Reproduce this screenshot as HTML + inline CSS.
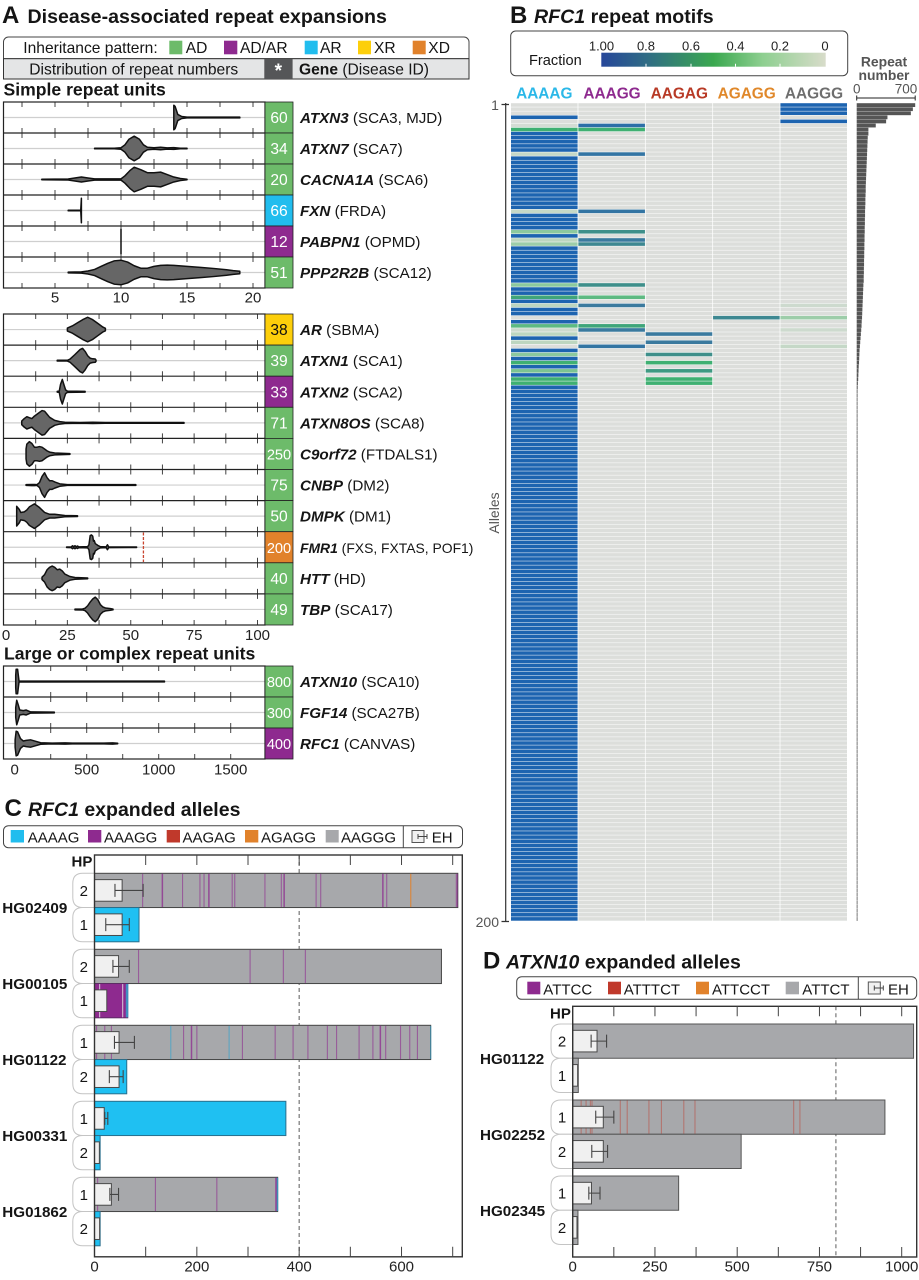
<!DOCTYPE html>
<html lang="en">
<head>
<meta charset="utf-8">
<title>Disease-associated repeat expansions</title>
<style>
html,body{margin:0;padding:0;background:#fff;}
svg{display:block;}
text{font-family:"Liberation Sans",Arial,sans-serif;fill:#151515;}
.t15{font-size:15.2px;}
.g{font-weight:bold;font-style:italic;}
.b{font-weight:bold;}
.title{font-size:19.6px;font-weight:bold;}
.letter{font-size:24px;font-weight:bold;}
.sub{font-size:17.6px;font-weight:bold;}
.val{font-size:15.6px;fill:#fff;text-anchor:middle;}
.val3{font-size:14.6px;}
.tick{font-size:15px;text-anchor:middle;fill:#222;}
.cb{font-size:13px;text-anchor:middle;fill:#222;}
.motif{font-size:15.4px;font-weight:bold;text-anchor:middle;}
.gr{fill:#555;}
</style>
</head>
<body>
<svg id="figure" xmlns="http://www.w3.org/2000/svg" width="919" height="1280" viewBox="0 0 919 1280">
<defs>
<linearGradient id="fractionGradient" x1="0" x2="1" y1="0" y2="0">
<stop offset="0" stop-color="#27479a"/>
<stop offset="0.2" stop-color="#2f6b85"/>
<stop offset="0.5" stop-color="#3aa84f"/>
<stop offset="0.72" stop-color="#8ecf90"/>
<stop offset="1" stop-color="#d8dcca"/>
</linearGradient>
</defs>

<!-- PANEL A HEADER -->
<g>
<text class="letter" x="2" y="23">A</text>
<text class="title" x="27.5" y="23">Disease-associated repeat expansions</text>
<path d="M3.5 58.7V42a5 5 0 0 1 5-5H464a5 5 0 0 1 5 5V58.7Z" fill="#fff" stroke="#444" stroke-width="1"/>
<rect x="3.5" y="58.7" width="465.5" height="20.3" fill="#e4e5e6" stroke="#333" stroke-width="1"/>
<text class="t15" style="font-size:15.6px" x="23.3" y="53">Inheritance pattern:</text>
<rect x="169.3" y="40.7" width="13" height="13.6" fill="#6dbb6a"/>
<text class="t15" style="font-size:15.6px" x="185.7" y="53">AD</text>
<rect x="224" y="40.7" width="13.3" height="13.6" fill="#8e2a8f"/>
<text class="t15" style="font-size:15.6px" x="240" y="53">AD/AR</text>
<rect x="304.7" y="40.7" width="13" height="13.6" fill="#21bdee"/>
<text class="t15" style="font-size:15.6px" x="320" y="53">AR</text>
<rect x="358" y="40.7" width="13" height="13.6" fill="#fdcf0b"/>
<text class="t15" style="font-size:15.6px" x="374" y="53">XR</text>
<rect x="412.7" y="40.7" width="13" height="13.6" fill="#e1822b"/>
<text class="t15" style="font-size:15.6px" x="428.3" y="53">XD</text>
<text class="t15" style="font-size:15.6px" x="29.3" y="74.3">Distribution of repeat numbers</text>
<rect x="264.3" y="59" width="28.3" height="20" fill="#555658"/>
<text x="278.3" y="77" text-anchor="middle" style="font-size:19px;fill:#fff;font-weight:bold">*</text>
<text class="t15" style="font-size:15.6px" x="299" y="74.3"><tspan class="b">Gene</tspan> (Disease ID)</text>
<text class="sub" x="3.5" y="95.3">Simple repeat units</text>
<text class="sub" x="4" y="659.3">Large or complex repeat units</text>
</g>

<g id="violinLayer"></g>

<!-- THRESHOLD BOXES -->
<g stroke="#222" stroke-width="0.8">
<rect x="265" y="102" width="28" height="31" fill="#6dbb6a"/>
<rect x="265" y="133" width="28" height="31" fill="#6dbb6a"/>
<rect x="265" y="164" width="28" height="31" fill="#6dbb6a"/>
<rect x="265" y="195" width="28" height="31" fill="#21bdee"/>
<rect x="265" y="226" width="28" height="31" fill="#8e2a8f"/>
<rect x="265" y="257" width="28" height="31" fill="#6dbb6a"/>
<rect x="265" y="314" width="28" height="31.1" fill="#fdcf0b"/>
<rect x="265" y="345.1" width="28" height="31.1" fill="#6dbb6a"/>
<rect x="265" y="376.2" width="28" height="31.1" fill="#8e2a8f"/>
<rect x="265" y="407.3" width="28" height="31.1" fill="#6dbb6a"/>
<rect x="265" y="438.4" width="28" height="31.1" fill="#6dbb6a"/>
<rect x="265" y="469.5" width="28" height="31.1" fill="#6dbb6a"/>
<rect x="265" y="500.6" width="28" height="31.1" fill="#6dbb6a"/>
<rect x="265" y="531.7" width="28" height="31.1" fill="#e1822b"/>
<rect x="265" y="562.8" width="28" height="31.1" fill="#6dbb6a"/>
<rect x="265" y="593.9" width="28" height="31.1" fill="#6dbb6a"/>
<rect x="265" y="666" width="28" height="31" fill="#6dbb6a"/>
<rect x="265" y="697" width="28" height="31" fill="#6dbb6a"/>
<rect x="265" y="728" width="28" height="31" fill="#8e2a8f"/>
</g>
<g>
<text class="val" x="279" y="123">60</text>
<text class="val" x="279" y="154">34</text>
<text class="val" x="279" y="185">20</text>
<text class="val" x="279" y="216">66</text>
<text class="val" x="279" y="247">12</text>
<text class="val" x="279" y="278">51</text>
<text class="val" x="279" y="335" style="fill:#111">38</text>
<text class="val" x="279" y="366.2">39</text>
<text class="val" x="279" y="397.3">33</text>
<text class="val" x="279" y="428.4">71</text>
<text class="val val3" x="279" y="459.5">250</text>
<text class="val" x="279" y="490.6">75</text>
<text class="val" x="279" y="521.7">50</text>
<text class="val val3" x="279" y="552.8">200</text>
<text class="val" x="279" y="583.9">40</text>
<text class="val" x="279" y="615">49</text>
<text class="val val3" x="279" y="687">800</text>
<text class="val val3" x="279" y="718">300</text>
<text class="val val3" x="279" y="749">400</text>
</g>

<!-- GENE LABELS -->
<g>
<text class="t15" x="300" y="123"><tspan class="g">ATXN3</tspan> (SCA3, MJD)</text>
<text class="t15" x="300" y="154"><tspan class="g">ATXN7</tspan> (SCA7)</text>
<text class="t15" x="300" y="185"><tspan class="g">CACNA1A</tspan> (SCA6)</text>
<text class="t15" x="300" y="216"><tspan class="g">FXN</tspan> (FRDA)</text>
<text class="t15" x="300" y="247"><tspan class="g">PABPN1</tspan> (OPMD)</text>
<text class="t15" x="300" y="278"><tspan class="g">PPP2R2B</tspan> (SCA12)</text>
<text class="t15" x="300" y="335"><tspan class="g">AR</tspan> (SBMA)</text>
<text class="t15" x="300" y="366.2"><tspan class="g">ATXN1</tspan> (SCA1)</text>
<text class="t15" x="300" y="397.3"><tspan class="g">ATXN2</tspan> (SCA2)</text>
<text class="t15" x="300" y="428.4"><tspan class="g">ATXN8OS</tspan> (SCA8)</text>
<text class="t15" x="300" y="459.5"><tspan class="g">C9orf72</tspan> (FTDALS1)</text>
<text class="t15" x="300" y="490.6"><tspan class="g">CNBP</tspan> (DM2)</text>
<text class="t15" x="300" y="521.7"><tspan class="g">DMPK</tspan> (DM1)</text>
<text class="t15" x="300" y="552.8" style="font-size:13.9px"><tspan class="g">FMR1</tspan> (FXS, FXTAS, POF1)</text>
<text class="t15" x="300" y="583.9"><tspan class="g">HTT</tspan> (HD)</text>
<text class="t15" x="300" y="615"><tspan class="g">TBP</tspan> (SCA17)</text>
<text class="t15" x="300" y="687"><tspan class="g">ATXN10</tspan> (SCA10)</text>
<text class="t15" x="300" y="718"><tspan class="g">FGF14</tspan> (SCA27B)</text>
<text class="t15" x="300" y="749"><tspan class="g">RFC1</tspan> (CANVAS)</text>
</g>

<!-- PANEL B -->
<g>
<text class="letter" x="510" y="23">B</text>
<text class="title" x="534" y="23"><tspan class="g">RFC1</tspan> repeat motifs</text>
<rect x="510.7" y="31" width="337" height="44.7" rx="5" fill="#fff" stroke="#444" stroke-width="1"/>
<text x="529" y="65" style="font-size:14.6px">Fraction</text>
<rect x="601.3" y="52.7" width="224.4" height="14" fill="url(#fractionGradient)"/>
<text class="cb" x="601.5" y="50.5">1.00</text>
<text class="cb" x="646" y="50.5">0.8</text>
<text class="cb" x="691" y="50.5">0.6</text>
<text class="cb" x="735.5" y="50.5">0.4</text>
<text class="cb" x="780" y="50.5">0.2</text>
<text class="cb" x="825" y="50.5">0</text>
<path d="M646 66.7v-3M691 66.7v-3M735.5 66.7v-3M780 66.7v-3" stroke="#fff" stroke-width="1"/>
<text class="motif" x="544.3" y="98.7" style="fill:#2bb8e8">AAAAG</text>
<text class="motif" x="612" y="98.7" style="fill:#8e2a8f">AAAGG</text>
<text class="motif" x="679.3" y="98.7" style="fill:#b83a26">AAGAG</text>
<text class="motif" x="746.7" y="98.7" style="fill:#e0882a">AGAGG</text>
<text class="motif" x="814" y="98.7" style="fill:#6e6e6e">AAGGG</text>
<text x="884" y="66.7" text-anchor="middle" class="b gr" style="font-size:13.9px">Repeat</text>
<text x="884" y="80" text-anchor="middle" class="b gr" style="font-size:13.9px">number</text>
<text x="856.7" y="93.3" text-anchor="middle" class="gr" style="font-size:13.5px">0</text>
<text x="906" y="93.3" text-anchor="middle" class="gr" style="font-size:13.5px">700</text>
<path d="M856.7 95.5v5M856.7 98H915.2M915.2 95.5v5" fill="none" stroke="#222" stroke-width="1"/>
<path d="M505.7 103V921M501.5 104.5H509M501.5 921.5H509" fill="none" stroke="#333" stroke-width="1.2"/>
<text x="495" y="110" text-anchor="middle" class="gr" style="font-size:14px">1</text>
<text x="499" y="927" text-anchor="end" class="gr" style="font-size:14px">200</text>
<text x="0" y="0" transform="translate(499,513) rotate(-90)" text-anchor="middle" class="gr" style="font-size:14px">Alleles</text>
</g>
<g id="heatLayer"></g>
<g id="repeatBarLayer"></g>

<!-- PANEL C -->
<g>
<text class="letter" x="4.5" y="816">C</text>
<text class="title" x="28" y="816" style="font-size:19.5px"><tspan class="g">RFC1</tspan> expanded alleles</text>
<rect x="3.5" y="825.7" width="459" height="22" rx="5" fill="#fff" stroke="#444" stroke-width="1"/>
<rect x="10.7" y="830" width="13.3" height="12.5" fill="#21bdee"/>
<text x="27.7" y="842.7" style="font-size:15px">AAAAG</text>
<rect x="88" y="830" width="13.3" height="12.5" fill="#8e2a8f"/>
<text x="104" y="842.7" style="font-size:15px">AAAGG</text>
<rect x="166.7" y="830" width="13.3" height="12.5" fill="#c0392b"/>
<text x="182.5" y="842.7" style="font-size:15px">AAGAG</text>
<rect x="245" y="830" width="13.3" height="12.5" fill="#e1822b"/>
<text x="261" y="842.7" style="font-size:15px">AGAGG</text>
<rect x="325.7" y="830" width="13" height="12.5" fill="#a7a8ab"/>
<text x="341" y="842.7" style="font-size:15px">AAGGG</text>
<path d="M403.3 825.7v22" stroke="#444" stroke-width="1"/>
<g>
<rect x="412" y="830.5" width="12" height="12" fill="#f0f0f0" stroke="#555" stroke-width="1"/>
<path d="M418 836.5H427M418 834v5M427 834v5" fill="none" stroke="#444" stroke-width="1"/>
</g>
<text x="431.7" y="842.7" style="font-size:15px">EH</text>
<text x="71.5" y="866.7" class="b" style="font-size:15px">HP</text>
</g>
<g id="rfc1Layer"></g>

<!-- PANEL D -->
<g>
<text class="letter" x="483" y="968.3">D</text>
<text class="title" x="506" y="968.3" style="font-size:19.5px"><tspan class="g">ATXN10</tspan> expanded alleles</text>
<rect x="516.7" y="976.7" width="400" height="22.6" rx="5" fill="#fff" stroke="#444" stroke-width="1"/>
<rect x="527.3" y="981.7" width="13" height="12.6" fill="#8e2a8f"/>
<text x="543.3" y="994.5" style="font-size:15px">ATTCC</text>
<rect x="608" y="981.7" width="13" height="12.6" fill="#c0392b"/>
<text x="623.7" y="994.5" style="font-size:15px">ATTTCT</text>
<rect x="696" y="981.7" width="13" height="12.6" fill="#e1822b"/>
<text x="712" y="994.5" style="font-size:15px">ATTCCT</text>
<rect x="785.7" y="981.7" width="13.3" height="12.6" fill="#a7a8ab"/>
<text x="802.3" y="994.5" style="font-size:15px">ATTCT</text>
<path d="M858.3 976.7v22.6" stroke="#444" stroke-width="1"/>
<g>
<rect x="868.3" y="982" width="12" height="12" fill="#f0f0f0" stroke="#555" stroke-width="1"/>
<path d="M874.3 988H883.3M874.3 985.5v5M883.3 985.5v5" fill="none" stroke="#444" stroke-width="1"/>
</g>
<text x="888" y="994.5" style="font-size:15px">EH</text>
<text x="550" y="1018.3" class="b" style="font-size:15px">HP</text>
</g>
<g id="atxn10Layer"></g>
</svg>

<script>
// ---------- Panel A axes ----------
const simpleTicks = [2.5, 5, 7.5, 10, 12.5, 15, 17.5, 20];
const simpleTickLabels = [5, 10, 15, 20];
const midTicks = [12.5, 25, 37.5, 50, 62.5, 75, 87.5, 100];
const midTickLabels = [0, 25, 50, 75, 100];
const largeTicks = [250, 500, 750, 1000, 1250, 1500];
const largeTickLabels = [0, 500, 1000, 1500];

// ---------- Panel A violins: repeat counts and relative density ----------
const atxn3Repeats = [14, 14.1, 14.3, 14.6, 15, 19];
const atxn3Density = [1, 0.9, 0.25, 0.08, 0.03, 0.03];
const atxn7Repeats = [8, 9.5, 10, 10.3, 10.6, 11, 11.4, 11.7, 12, 12.5, 13, 13.5, 14, 14.5, 15];
const atxn7Density = [0.02, 0.02, 0.06, 0.3, 0.75, 1, 0.75, 0.3, 0.1, 0.06, 0.1, 0.05, 0.07, 0.02, 0.02];
const cacna1aRepeats = [4, 6, 6.5, 7, 7.5, 8, 10, 10.3, 10.7, 11, 11.5, 12, 12.5, 13, 13.5, 14, 14.5, 15];
const cacna1aDensity = [0.02, 0.04, 0.12, 0.2, 0.12, 0.05, 0.05, 0.3, 0.75, 1, 0.8, 0.55, 0.55, 0.6, 0.4, 0.2, 0.08, 0.02];
const fxnRepeats = [6, 6.95, 7];
const fxnDensity = [0.02, 0.02, 1];
const pabpn1Repeats = [10];
const pabpn1Density = [1];
const ppp2r2bRepeats = [6, 7, 7.5, 8, 8.5, 9, 9.5, 10, 10.5, 11, 11.5, 12, 12.5, 13, 13.5, 14, 15, 16, 17, 18, 18.5, 19];
const ppp2r2bDensity = [0.03, 0.05, 0.12, 0.25, 0.5, 0.75, 0.95, 1, 0.85, 0.55, 0.35, 0.35, 0.5, 0.58, 0.6, 0.58, 0.5, 0.42, 0.33, 0.22, 0.15, 0.1];
const arRepeats = [25, 27, 29, 31, 33, 35, 37, 39, 40];
const arDensity = [0.12, 0.3, 0.55, 0.8, 1, 0.8, 0.5, 0.2, 0.1];
const atxn1Repeats = [21, 25, 26, 28, 30, 31, 32, 33, 34, 35, 36, 36.3];
const atxn1Density = [0.03, 0.03, 0.12, 0.5, 0.9, 1, 0.75, 0.4, 0.2, 0.15, 0.13, 0.05];
const atxn2Repeats = [21, 21.8, 22.3, 23, 23.6, 24.3, 25, 32];
const atxn2Density = [0.03, 0.05, 0.6, 1, 0.6, 0.15, 0.05, 0.03];
const atxn8osRepeats = [7, 8, 9, 10, 11, 12, 14, 15, 16, 17, 18, 20, 22, 24, 30, 35, 40, 71];
const atxn8osDensity = [0.15, 0.35, 0.5, 0.42, 0.35, 0.55, 0.85, 1, 0.95, 0.7, 0.45, 0.2, 0.1, 0.05, 0.03, 0.05, 0.03, 0.03];
const c9orf72Repeats = [8.7, 9, 10, 11, 12, 13, 14, 15, 16, 17, 18, 20, 26];
const c9orf72Density = [0.4, 0.8, 1, 0.85, 0.55, 0.55, 0.6, 0.55, 0.4, 0.25, 0.15, 0.08, 0.03];
const cnbpRepeats = [8.7, 11, 12, 13, 14, 15, 16, 17, 18, 19, 20, 22, 25, 52];
const cnbpDensity = [0.03, 0.05, 0.05, 0.03, 0.2, 0.7, 1, 0.6, 0.35, 0.35, 0.25, 0.1, 0.03, 0.03];
const dmpkRepeats = [5, 6, 6.6, 8, 9, 10, 12, 14, 16, 18, 20, 22, 24, 29];
const dmpkDensity = [0.8, 0.55, 0.3, 0.35, 0.5, 0.75, 1, 0.7, 0.3, 0.15, 0.15, 0.1, 0.05, 0.03];
const fmr1Repeats = [24.7, 26.5, 27, 27.5, 28, 28.5, 29, 29.5, 33, 33.5, 34, 34.5, 35, 35.3, 35.6, 36, 37, 38, 40.3, 40.8, 41.3, 52.3];
const fmr1Density = [0.02, 0.03, 0.12, 0.04, 0.12, 0.04, 0.1, 0.03, 0.05, 0.2, 0.95, 1, 0.9, 0.5, 0.55, 0.3, 0.15, 0.05, 0.03, 0.2, 0.03, 0.02];
const httRepeats = [15, 16, 17, 18, 19, 20, 21, 22, 23, 24, 25, 26, 28, 33];
const httDensity = [0.1, 0.3, 0.7, 0.9, 1, 0.9, 0.7, 0.75, 0.6, 0.35, 0.25, 0.15, 0.07, 0.03];
const tbpRepeats = [28, 31, 32, 33, 34, 35, 36, 37, 38, 39, 40, 42, 43];
const tbpDensity = [0.03, 0.04, 0.1, 0.3, 0.6, 0.85, 1, 0.8, 0.4, 0.2, 0.12, 0.07, 0.03];
const atxn10Repeats = [7, 10, 20, 30, 1040];
const atxn10Density = [0.5, 1, 1, 0.04, 0.03];
const fgf14Repeats = [7, 14, 25, 35, 60, 80, 110, 275];
const fgf14Density = [0.4, 1, 0.6, 0.2, 0.15, 0.2, 0.05, 0.03];
const rfc1Repeats = [3, 10, 20, 40, 60, 80, 110, 140, 180, 260, 350, 400, 620, 680, 715];
const rfc1Density = [0.3, 1, 0.95, 0.4, 0.2, 0.25, 0.3, 0.2, 0.06, 0.03, 0.05, 0.03, 0.03, 0.05, 0.02];
const fmr1PathogenicCutoff = 55;

// ---------- Panel B: fraction of each motif per allele ----------
const fractionAaaag = [
0,0,0,1,0,0.05,0.5,1,1,1,1,1,0.15,1,1,1,1,1,1,1,
1,1,1,1,1,1,0.15,1,1,1,1,0.35,1,0.2,0.3,1,1,1,1,1,
1,1,1,1,0.35,1,1,0.55,1,0.2,1,1,0,1,0.45,0.1,0.2,1,0.2,0,
1,0.35,1,0.5,1,0.4,1,0.5,0.5,1,1,1,1,1,1,1,1,1,1,1,
1,1,1,1,1,1,1,1,1,1,1,1,1,1,1,1,1,1,1,1,
1,1,1,1,1,1,1,1,1,1,1,1,1,1,1,1,1,1,1,1,
1,1,1,1,1,1,1,1,1,1,1,1,1,1,1,1,1,1,1,1,
1,1,1,1,1,1,1,1,1,1,1,1,1,1,1,1,1,1,1,1,
1,1,1,1,1,1,1,1,1,1,1,1,1,1,1,1,1,1,1,1,
1,1,1,1,1,1,1,1,1,1,1,1,1,1,1,1,1,1,1,1
];
const fractionAaagg = [
0,0,0,0,0,0.9,0.5,0,0,0,0,0,0.85,0,0,0,0,0,0,0,
0,0,0,0,0,0,0.85,0,0,0,0,0.65,0,0.8,0.7,0,0,0,0,0,
0,0,0,0,0.65,0,0,0.45,0,0.8,0,0,0,0,0.55,0.8,0,0,0,0.85
];
const fractionAagag = [
0,0,0,0,0,0,0,0,0,0,0,0,0,0,0,0,0,0,0,0,
0,0,0,0,0,0,0,0,0,0,0,0,0,0,0,0,0,0,0,0,
0,0,0,0,0,0,0,0,0,0,0,0,0,0,0,0,0.8,0,0.8,0,
0,0.65,0,0.5,0,0.6,0,0.5,0.5,0
];
const fractionAgagg = [
0,0,0,0,0,0,0,0,0,0,0,0,0,0,0,0,0,0,0,0,
0,0,0,0,0,0,0,0,0,0,0,0,0,0,0,0,0,0,0,0,
0,0,0,0,0,0,0,0,0,0,0,0,0.7
];
const fractionAaggg = [
1,1,1,0,1,0,0,0,0,0,0,0,0,0,0,0,0,0,0,0,
0,0,0,0,0,0,0,0,0,0,0,0,0,0,0,0,0,0,0,0,
0,0,0,0,0,0,0,0,0,0.1,0,0,0.3,0,0,0.1,0,0,0,0.15
];
const repeatNumbers = [
700,672,648,368,352,228,140,140,132,130,128,126,124,122,120,118,116,114,112,110,
108,108,106,104,104,102,100,100,98,98,96,96,94,94,92,92,90,90,88,88,
86,86,84,84,80,78,76,74,72,70,68,66,64,60,58,54,50,46,42,38,
34,32,30,28,24,22,20,18,14,12,10,10,9,9,8,8,8,7,7,7,
7,6,6,6,6,6,6,6,6,6,6,6,5,5,5,5,5,5,5,5,
5,5,5,5,5,5,5,5,5,5,5,5,5,5,5,5,5,5,5,5,
5,5,5,5,5,5,5,5,5,5,5,5,5,5,5,5,5,5,5,5,
5,5,5,5,5,5,5,5,5,5,5,5,5,5,5,5,5,5,5,5,
4,4,4,4,4,4,4,4,4,4,4,4,4,4,4,4,4,4,4,4,
4,4,4,4,4,4,4,4,4,4,4,4,4,4,4,4,4,4,4,4
];
const heatStops = [0, 0.2, 0.4, 0.5, 0.65, 0.8, 1];
const heatColors = [[220,222,219],[189,214,192],[124,196,146],[63,176,114],[62,143,138],[58,122,158],[29,100,176]];

// ---------- Panel C data ----------
const rfc1Samples = ['HG02409', 'HG00105', 'HG01122', 'HG00331', 'HG01862'];
const rfc1Haplotypes = [[2, 1], [2, 1], [1, 2], [1, 2], [1, 2]];
const rfc1Lengths = [[710, 87], [678, 65], [657, 63], [374, 11], [358, 11]];
const rfc1BaseMotif = [['AAGGG', 'AAAAG'], ['AAGGG', 'AAAGG'], ['AAGGG', 'AAAAG'], ['AAAAG', 'AAAAG'], ['AAGGG', 'AAAAG']];
const rfc1Eh = [[54, 54], [47, 24], [48, 48], [19, 9.5], [33, 10]];
const rfc1EhLow = [[40, 22], [36, null], [39, 29], [20, null], [30, null]];
const rfc1EhHigh = [[95, 68], [68, null], [78, 56], [26, null], [47, null]];
const rfc1AaaggStripes = [
[[93, 131, 132, 171, 205, 213, 222, 223, 268, 273, 332, 364, 369, 370, 432, 441, 562, 563, 570, 706, 708], []],
[[85, 303, 368, 411], []],
[[3, 19, 32, 173, 188, 189, 199, 288, 352, 387, 416, 454, 472, 516, 543, 557, 558, 568, 597, 615, 630], []],
[[], []],
[[5, 118, 238, 353, 354, 355], []]
];
const rfc1AaaagStripes = [
[[], []],
[[], [61, 62, 63, 64]],
[[148, 262, 656], []],
[[], []],
[[356, 357], []]
];
const rfc1AgaggStripes = [[[617], []], [[], []], [[], []], [[], []], [[], []]];
const rfc1AaagggStripes = [[[], []], [[], [9, 54]], [[], []], [[], []], [[], []]];
const rfc1Ticks = [0, 100, 200, 300, 400, 500, 600, 700];
const rfc1TickLabels = [0, 200, 400, 600];
const rfc1Cutoff = 400;

// ---------- Panel D data ----------
const atxn10Samples = ['HG01122', 'HG02252', 'HG02345'];
const atxn10Haplotypes = [[2, 1], [1, 2], [1, 2]];
const atxn10Lengths = [[1036, 17], [949, 512], [322, 16]];
const atxn10BaseMotif = [['ATTCT', 'ATTCT'], ['ATTCT', 'ATTCT'], ['ATTCT', 'ATTCT']];
const atxn10Eh = [[74, 15], [93, 93], [57, 13]];
const atxn10EhLow = [[56, null], [70, 58], [49, null]];
const atxn10EhHigh = [[103, null], [125, 106], [83, null]];
const atxn10AtttctStripes = [[[], []], [[24, 39, 52, 57, 143, 164, 230, 268, 336, 370, 670, 689], []], [[], []]];
const atxn10Ticks = [0, 125, 250, 375, 500, 625, 750, 875, 1000];
const atxn10TickLabels = [0, 250, 500, 750, 1000];
const atxn10Cutoff = 800;

// ---------- Axis functions ----------
const xSimple = v => 55 + (v - 5) * 13.2;
const xMid = v => 4 + v * 2.535;
const xLarge = v => 14.7 + v * 0.144;
const xRfc1 = v => 94.5 + v * 0.5117;
const xAtxn10 = v => 572.7 + v * 0.329;
const xRepeat = v => 856.7 + v * (58.5 / 700);
const yAllele = i => 103.2 + i * 4.09;
const densityPx = d => d * 12.3;

const NS = 'http://www.w3.org/2000/svg';
function mk(parent, tag, attrs, text) {
  const el = document.createElementNS(NS, tag);
  for (const k in attrs) el.setAttribute(k, attrs[k]);
  if (text !== undefined) el.textContent = text;
  parent.appendChild(el);
  return el;
}

// ---------- Violins ----------
function violinPath(xs, ds, axis, cy) {
  const top = xs.map((v, i) => axis(v).toFixed(2) + ' ' + (cy - densityPx(ds[i])).toFixed(2));
  const bottom = xs.map((v, i) => axis(v).toFixed(2) + ' ' + (cy + densityPx(ds[i])).toFixed(2)).reverse();
  return 'M' + top.concat(bottom).join('L') + 'Z';
}

function drawViolinPanel(name, top, rowH, rows, axis, ticks, tickLabels, labelY) {
  const layer = document.getElementById('violinLayer');
  const g = mk(layer, 'g', {});
  
  
  const bottom = top + rowH * rows.length;
  rows.forEach((r, i) => {
    const cy = top + rowH * (i + 0.5);
    const mid = mk(g, 'line', {x1: 4, x2: 265, y1: cy, y2: cy, stroke: '#cfcfcf', 'stroke-width': 1.2});
    
    
    ticks.forEach(t => {
      const tk = mk(g, 'path', {d: 'M' + axis(t) + ' ' + (top + rowH * i) + 'v5M' + axis(t) + ' ' + (top + rowH * (i + 1)) + 'v-5', stroke: '#444', 'stroke-width': 1, fill: 'none'});
      
      
    });
  });
  rows.forEach((r, i) => {
    const cy = top + rowH * (i + 0.5);
    const v = mk(g, 'path', {d: violinPath(r[0], r[1], axis, cy), fill: '#666', stroke: '#111', 'stroke-width': 1.5, 'stroke-linejoin': 'round'});
    
    
    if (i > 0) {
      const sep = mk(g, 'line', {x1: 3.5, x2: 265, y1: top + rowH * i, y2: top + rowH * i, stroke: '#222', 'stroke-width': 1.2});
      
      
    }
  });
  const frame = mk(g, 'rect', {x: 3.5, y: top, width: 261.5, height: bottom - top, fill: 'none', stroke: '#222', 'stroke-width': 1.2});
  
  
  tickLabels.forEach(t => {
    const tl = mk(g, 'text', {x: Math.max(axis(t), 6), y: labelY, class: 'tick'}, String(t));
    
    
  });
  return g;
}

drawViolinPanel('simple-repeat-violins', 102, 31, [
  [atxn3Repeats, atxn3Density], [atxn7Repeats, atxn7Density], [cacna1aRepeats, cacna1aDensity],
  [fxnRepeats, fxnDensity], [pabpn1Repeats, pabpn1Density], [ppp2r2bRepeats, ppp2r2bDensity]
], xSimple, simpleTicks, simpleTickLabels, 302.7);

const midPanel = drawViolinPanel('triplet-repeat-violins', 314, 31.1, [
  [arRepeats, arDensity], [atxn1Repeats, atxn1Density], [atxn2Repeats, atxn2Density],
  [atxn8osRepeats, atxn8osDensity], [c9orf72Repeats, c9orf72Density], [cnbpRepeats, cnbpDensity],
  [dmpkRepeats, dmpkDensity], [fmr1Repeats, fmr1Density], [httRepeats, httDensity], [tbpRepeats, tbpDensity]
], xMid, midTicks, midTickLabels, 640);

const cutoffLine = mk(midPanel, 'line', {x1: xMid(fmr1PathogenicCutoff), x2: xMid(fmr1PathogenicCutoff), y1: 532.5, y2: 562, stroke: '#c9452f', 'stroke-width': 1.3, 'stroke-dasharray': '3 1.5'});



drawViolinPanel('large-repeat-violins', 666, 31, [
  [atxn10Repeats, atxn10Density], [fgf14Repeats, fgf14Density], [rfc1Repeats, rfc1Density]
], xLarge, largeTicks, largeTickLabels, 774.3);

// ---------- Heatmap ----------
function heatColor(f) {
  let k = 0;
  while (k < heatStops.length - 2 && f > heatStops[k + 1]) k++;
  const t = Math.min(1, Math.max(0, (f - heatStops[k]) / (heatStops[k + 1] - heatStops[k])));
  const c = heatColors[k].map((a, j) => Math.round(a + (heatColors[k + 1][j] - a) * t));
  return 'rgb(' + c.join(',') + ')';
}
const heatColumns = [fractionAaaag, fractionAaagg, fractionAagag, fractionAgagg, fractionAaggg];
const heatLeft = i => 511 + i * 67.35;
const heatLayer = document.getElementById('heatLayer');
const alleleCount = fractionAaaag.length;
heatColumns.forEach((col, c) => {
  for (let i = 0; i < alleleCount; i++) {
    const cell = mk(heatLayer, 'rect', {x: heatLeft(c), y: yAllele(i), width: 66.6, height: 3.6, fill: heatColor(col[i] || 0)});
    
    
  }
});

// ---------- Repeat number bars ----------
const repeatLayer = document.getElementById('repeatBarLayer');
repeatNumbers.forEach((v, i) => {
  const bar = mk(repeatLayer, 'rect', {x: xRepeat(0), y: yAllele(i), width: Math.max(0.8, xRepeat(v) - xRepeat(0)), height: 3.8, fill: '#555'});
  
  
});

// ---------- Allele charts ----------
const motifColors = {AAAAG: '#1fc0f2', AAAGG: '#8e2a8f', AAGGG: '#a7a8ab', ATTCT: '#a7a8ab'};
const motifStroke = {AAAAG: '#2a6f8c', AAAGG: '#5d2a66', AAGGG: '#444', ATTCT: '#555'};

function drawAlleles(c) {
  const root = document.getElementById(c.layer);
  const x = c.axis;
  const rowTop = (g, r) => c.top + g * 76 + r * 34.25;
  const dash = mk(root, 'line', {x1: x(c.cutoff), x2: x(c.cutoff), y1: c.frameTop, y2: c.frameBottom, stroke: '#777', 'stroke-width': 1.2, 'stroke-dasharray': '4 3'});
  
  

  c.samples.forEach((s, g) => {
    const lab = mk(root, 'text', {x: c.sampleX, y: rowTop(g, 1) + 5.5, class: 'b', style: 'font-size:15.2px'}, s);
    
    
    [0, 1].forEach(r => {
      const y = rowTop(g, r), h = 34.25, cy = y + h / 2, x0 = x(0), px = x0 - 21.7;
      const pill = mk(root, 'path', {d: 'M' + x0 + ' ' + y + 'H' + (px + 10) + 'Q' + px + ' ' + y + ' ' + px + ' ' + (y + 10) + 'V' + (y + h - 10) + 'Q' + px + ' ' + (y + h) + ' ' + (px + 10) + ' ' + (y + h) + 'H' + x0, fill: '#fff', stroke: '#c4c4c4', 'stroke-width': 1});
      
      
      const hp = mk(root, 'text', {x: px + 11, y: cy + 5.5, 'text-anchor': 'middle', style: 'font-size:15px'}, String(c.haps[g][r]));
      
      

      const motif = c.base[g][r];
      const bar = mk(root, 'rect', {x: x0, y: y, width: x(c.lengths[g][r]) - x0, height: h, fill: motifColors[motif], stroke: motifStroke[motif], 'stroke-width': 1});
      
      

      c.stripes.forEach(st => {
        st.values[g][r].forEach(u => {
          const sr = mk(root, 'rect', {x: x(u), y: y + 0.5, width: 1.1, height: h - 1, fill: st.color, opacity: st.opacity});
          
          
        });
      });

      const box = mk(root, 'rect', {x: x0, y: cy - 10.8, width: x(c.eh[g][r]) - x0, height: 21.6, fill: '#f0f0f0', stroke: '#4a4a4a', 'stroke-width': 1});
      
      
      if (c.ehLow[g][r] !== null) {
        const a = x(c.ehLow[g][r]), b = x(c.ehHigh[g][r]);
        const ci = mk(root, 'path', {d: 'M' + a + ' ' + cy + 'H' + b + 'M' + a + ' ' + (cy - 6.5) + 'v13M' + b + ' ' + (cy - 6.5) + 'v13', fill: 'none', stroke: '#444', 'stroke-width': 1.1});
        
        
      }
    });
  });

  const frame = mk(root, 'rect', {x: x(0), y: c.frameTop, width: c.frameRight - x(0), height: c.frameBottom - c.frameTop, fill: 'none', stroke: '#333', 'stroke-width': 1.4});
  
  
  c.ticks.forEach(t => {
    if (t === 0) return;
    const tk = mk(root, 'path', {d: 'M' + x(t) + ' ' + c.frameTop + 'v10M' + x(t) + ' ' + c.frameBottom + 'v-10', stroke: '#444', 'stroke-width': 1, fill: 'none'});
    
    
  });
  c.tickLabels.forEach(t => {
    const tl = mk(root, 'text', {x: x(t), y: 1271.7, class: 'tick'}, String(t));
    
    
  });
}

drawAlleles({
  layer: 'rfc1Layer', axis: xRfc1, samples: rfc1Samples, haps: rfc1Haplotypes, lengths: rfc1Lengths,
  base: rfc1BaseMotif, eh: rfc1Eh, ehLow: rfc1EhLow, ehHigh: rfc1EhHigh,
  stripes: [
    {values: rfc1AaaggStripes, color: '#8e2a8f', opacity: 0.6},
    {values: rfc1AaaagStripes, color: '#35a5cc', opacity: 0.65},
    {values: rfc1AgaggStripes, color: '#e1822b', opacity: 0.9},
    {values: rfc1AaagggStripes, color: '#d8d0dc', opacity: 0.9}
  ],
  ticks: rfc1Ticks, tickLabels: rfc1TickLabels, cutoff: rfc1Cutoff,
  top: 873.3, frameTop: 855, frameBottom: 1256.8, frameRight: 462.3, sampleX: 2.3
});

drawAlleles({
  layer: 'atxn10Layer', axis: xAtxn10, samples: atxn10Samples, haps: atxn10Haplotypes, lengths: atxn10Lengths,
  base: atxn10BaseMotif, eh: atxn10Eh, ehLow: atxn10EhLow, ehHigh: atxn10EhHigh,
  stripes: [{values: atxn10AtttctStripes, color: '#c0392b', opacity: 0.45}],
  ticks: atxn10Ticks, tickLabels: atxn10TickLabels, cutoff: atxn10Cutoff,
  top: 1024, frameTop: 1006.3, frameBottom: 1257, frameRight: 916.7, sampleX: 480
});
</script>
</body>
</html>
